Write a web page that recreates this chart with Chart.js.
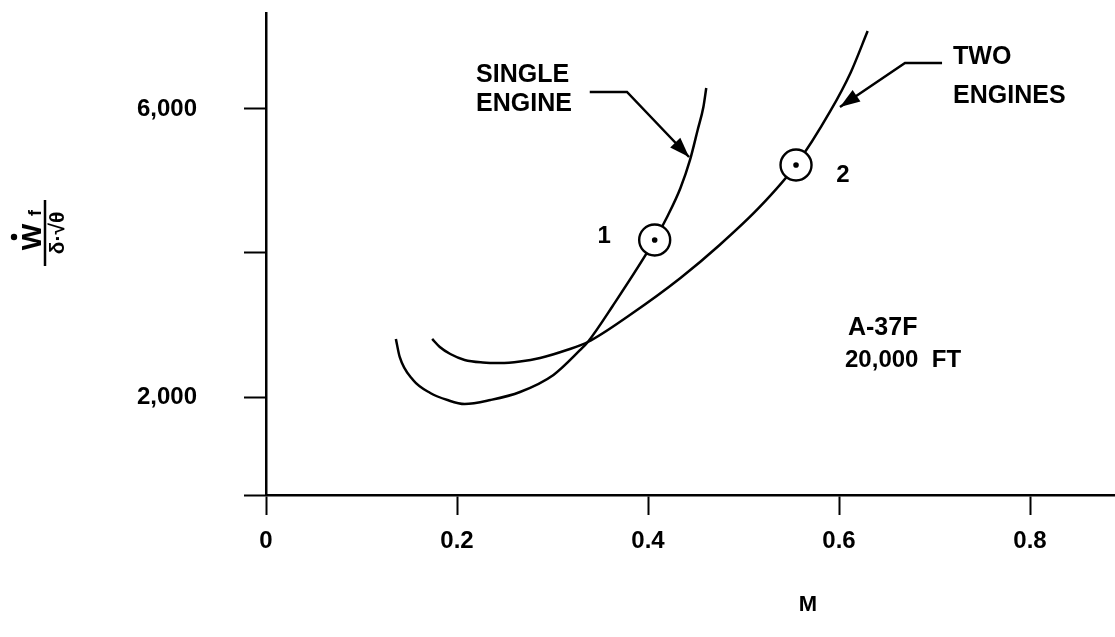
<!DOCTYPE html>
<html>
<head>
<meta charset="utf-8">
<title>A-37F fuel flow vs Mach</title>
<script src="https://cdn.jsdelivr.net/npm/chart.js@4.4.1/dist/chart.umd.min.js"></script>
<style>
  html, body { margin: 0; padding: 0; background: #fff; }
  canvas { display: block; }
</style>
</head>
<body>
<canvas id="chart" width="1115" height="637"></canvas>
<script>
// Corrected fuel flow  Wf / (delta * sqrt(theta))  versus Mach number, A-37F at 20,000 ft
const machSingle = [0.136, 0.140, 0.154, 0.172, 0.190, 0.208, 0.235, 0.266, 0.301, 0.329, 0.337, 0.363, 0.407, 0.420, 0.434, 0.444, 0.452, 0.458, 0.461];
const fuelSingle = [2806, 2556, 2236, 2056, 1958, 1903, 1958, 2069, 2306, 2653, 2764, 3264, 4181, 4500, 4903, 5292, 5708, 6028, 6292];

const machTwo = [0.174, 0.182, 0.193, 0.208, 0.227, 0.245, 0.266, 0.287, 0.315, 0.337, 0.381, 0.434, 0.475, 0.517, 0.555, 0.591, 0.612, 0.630];
const fuelTwo = [2806, 2694, 2597, 2514, 2479, 2472, 2493, 2542, 2653, 2764, 3139, 3653, 4111, 4639, 5222, 5972, 6500, 7083];

// Operating points marked on the curves
const pointMach = [0.407, 0.555];
const pointFuel = [4181, 5222];
const pointLabels = ['1', '2'];

// Axis ticks
const xTickValues = [0, 0.2, 0.4, 0.6, 0.8];
const xTickLabels = ['0', '0.2', '0.4', '0.6', '0.8'];
const yTickValues = [2000, 4000, 6000];
const yTickLabels = ['2,000', '', '6,000'];

const FONT = '"Liberation Sans", Arial, Helvetica, sans-serif';

const toXY = (xs, ys) => xs.map((x, i) => ({ x: x, y: ys[i] }));

// Labels, leader arrows and the fraction-style y axis title
const annotations = {
  id: 'annotations',
  afterDatasetsDraw(chart) {
    const ctx = chart.ctx;
    const xs = chart.scales.x, ys = chart.scales.y;
    const px = v => xs.getPixelForValue(v);
    const py = v => ys.getPixelForValue(v);

    ctx.save();
    ctx.fillStyle = '#000';
    ctx.strokeStyle = '#000';
    ctx.textBaseline = 'middle';
    ctx.textAlign = 'left';

    const text = (s, x, y, size) => {
      ctx.font = 'bold ' + size + 'px ' + FONT;
      ctx.fillText(s, px(x), py(y));
    };

    const arrow = (pts) => {
      ctx.lineWidth = 2.5;
      ctx.beginPath();
      pts.forEach((p, i) => {
        const X = px(p[0]), Y = py(p[1]);
        if (i === 0) ctx.moveTo(X, Y); else ctx.lineTo(X, Y);
      });
      ctx.stroke();
      const a = pts[pts.length - 2], b = pts[pts.length - 1];
      const ax = px(a[0]), ay = py(a[1]), bx = px(b[0]), by = py(b[1]);
      const ang = Math.atan2(by - ay, bx - ax);
      const L = 20, W = 7;
      ctx.beginPath();
      ctx.moveTo(bx, by);
      ctx.lineTo(bx - L * Math.cos(ang) + W * Math.sin(ang), by - L * Math.sin(ang) - W * Math.cos(ang));
      ctx.lineTo(bx - L * Math.cos(ang) - W * Math.sin(ang), by - L * Math.sin(ang) + W * Math.cos(ang));
      ctx.closePath();
      ctx.fill();
    };

    // Curve labels
    text('SINGLE', 0.220, 6472, 25);
    text('ENGINE', 0.220, 6069, 25);
    arrow([[0.339, 6236], [0.378, 6236], [0.443, 5333]]);

    text('TWO', 0.7194, 6722, 25);
    text('ENGINES', 0.7194, 6181, 25);
    arrow([[0.7079, 6639], [0.6691, 6639], [0.601, 6028]]);

    // Operating point numbers
    ctx.textAlign = 'center';
    text(pointLabels[0], 0.354, 4236, 24);
    text(pointLabels[1], 0.604, 5083, 24);

    // Aircraft and altitude
    ctx.textAlign = 'left';
    text('A-37F', 0.6094, 2958, 25);
    text('20,000  FT', 0.6063, 2514, 24);

    // X axis title
    ctx.textAlign = 'center';
    text('M', 0.5675, 2000 - (605 - 397) / 0.072, 22);

    // Y axis title: W-dot sub f over delta root theta, reading upward
    ctx.translate(45, 233);
    ctx.rotate(-Math.PI / 2);
    ctx.lineWidth = 2.5;
    ctx.beginPath();
    ctx.moveTo(-33, 0);
    ctx.lineTo(33, 0);
    ctx.stroke();
    ctx.textBaseline = 'alphabetic';
    ctx.textAlign = 'center';
    ctx.font = 'bold 28px ' + FONT;
    ctx.fillText('W', -4, -4);
    ctx.beginPath();
    ctx.arc(-4, -31, 3.2, 0, Math.PI * 2);
    ctx.fill();
    ctx.font = 'bold 18px ' + FONT;
    ctx.fillText('f', 20, -4);
    ctx.textBaseline = 'top';
    ctx.font = 'bold 21px ' + FONT;
    ctx.fillText('\u03B4\u00B7\u221A\u03B8', 0, 3);
    ctx.restore();
  }
};

new Chart(document.getElementById('chart'), {
  type: 'line',
  data: {
    datasets: [
      {
        data: toXY(pointMach, pointFuel),
        showLine: false,
        pointRadius: 2.8,
        pointBackgroundColor: '#000',
        pointBorderWidth: 0,
        order: 0
      },
      {
        data: toXY(pointMach, pointFuel),
        showLine: false,
        pointRadius: 15.5,
        pointBackgroundColor: '#fff',
        pointBorderColor: '#000',
        pointBorderWidth: 2.4,
        order: 1
      },
      {
        label: 'Single engine',
        data: toXY(machSingle, fuelSingle),
        borderColor: '#000',
        borderWidth: 2.5,
        pointRadius: 0,
        fill: false,
        cubicInterpolationMode: 'monotone',
        clip: false,
        order: 2
      },
      {
        label: 'Two engines',
        data: toXY(machTwo, fuelTwo),
        borderColor: '#000',
        borderWidth: 2.5,
        pointRadius: 0,
        fill: false,
        cubicInterpolationMode: 'monotone',
        clip: false,
        order: 2
      }
    ]
  },
  options: {
    responsive: false,
    animation: false,
    events: [],
    layout: { autoPadding: false, padding: { top: 13, right: 0, bottom: 0, left: 0 } },
    plugins: {
      legend: { display: false },
      tooltip: { enabled: false },
      title: { display: false }
    },
    scales: {
      x: {
        type: 'linear',
        min: 0,
        max: 0.889,
        afterBuildTicks: s => { s.ticks = xTickValues.map(v => ({ value: v })); },
        afterFit: s => { s.height = 142; s.paddingLeft = 0; s.paddingRight = 0; },
        grid: { display: true, drawOnChartArea: false, drawTicks: true, tickLength: 20, tickColor: '#000', tickWidth: 2, color: '#000' },
        border: { display: true, color: '#000', width: 2.5 },
        ticks: {
          color: '#000',
          font: { family: FONT, size: 24, weight: 'bold' },
          padding: 12,
          maxRotation: 0,
          autoSkip: false,
          callback: (v, i) => xTickLabels[i]
        }
      },
      y: {
        type: 'linear',
        min: 639,
        max: 7333,
        afterBuildTicks: s => { s.ticks = [{ value: s.min }].concat(yTickValues.map(v => ({ value: v }))); },
        afterFit: s => { s.width = 266; s.paddingTop = 0; s.paddingBottom = 0; },
        grid: { display: true, drawOnChartArea: false, drawTicks: true, tickLength: 22, tickColor: '#000', tickWidth: 2, color: '#000' },
        border: { display: true, color: '#000', width: 2.5 },
        ticks: {
          color: '#000',
          font: { family: FONT, size: 24, weight: 'bold' },
          padding: 47,
          autoSkip: false,
          callback: (v, i) => (i === 0 ? '' : yTickLabels[i - 1])
        }
      }
    }
  },
  plugins: [annotations]
});
</script>
</body>
</html>
